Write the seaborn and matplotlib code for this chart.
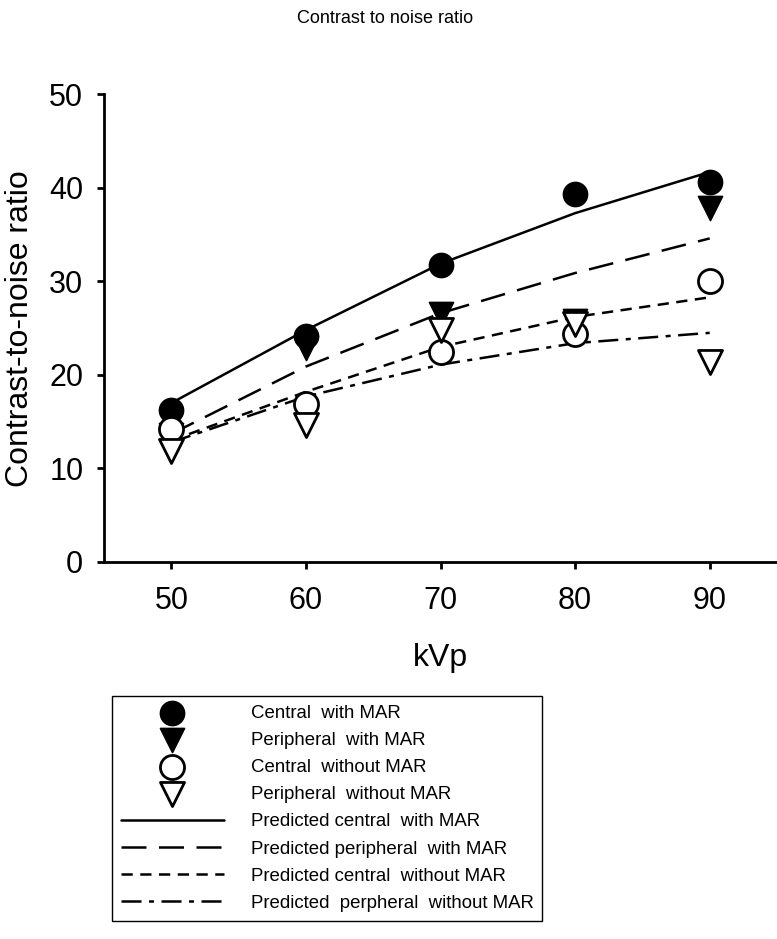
import matplotlib
matplotlib.use("Agg")
import matplotlib.pyplot as plt
import seaborn as sns
import pandas as pd

# kVp settings
kvp = [50, 60, 70, 80, 90]

# measured contrast-to-noise ratio
central_mar = [16.2, 24.2, 31.8, 39.4, 40.6]
peripheral_mar = [13.6, 22.9, 26.5, 25.8, 37.9]
central_nomar = [14.2, 16.9, 22.4, 24.4, 30.0]
peripheral_nomar = [11.9, 14.6, 24.8, 25.4, 21.4]

# predicted (fitted) curves
pred_central_mar = [17.0, 24.8, 31.9, 37.3, 41.7]
pred_peripheral_mar = [13.7, 20.9, 26.6, 30.9, 34.6]
pred_central_nomar = [13.0, 18.2, 23.0, 26.2, 28.3]
pred_peripheral_nomar = [12.8, 17.7, 21.1, 23.4, 24.5]

sns.set_style("ticks")
plt.rcParams['font.family'] = ['Liberation Sans', 'DejaVu Sans']
plt.rcParams['text.color'] = 'black'
plt.rcParams['axes.labelcolor'] = 'black'

df = pd.DataFrame({
    'kVp': kvp,
    'cm': central_mar, 'pm': peripheral_mar,
    'cn': central_nomar, 'pn': peripheral_nomar,
    'pcm': pred_central_mar, 'ppm': pred_peripheral_mar,
    'pcn': pred_central_nomar, 'ppn': pred_peripheral_nomar,
})

fig = plt.figure(figsize=(7.77, 9.39), dpi=100)
ax = fig.add_axes([0.134, 0.4015, 0.866, 0.498])

lw = 1.8
sns.lineplot(data=df, x='kVp', y='pcm', ax=ax, color='black', lw=lw,
             linestyle='-', label='Predicted central  with MAR')
sns.lineplot(data=df, x='kVp', y='ppm', ax=ax, color='black', lw=lw,
             linestyle=(0, (10, 5)), label='Predicted peripheral  with MAR')
sns.lineplot(data=df, x='kVp', y='pcn', ax=ax, color='black', lw=lw,
             linestyle=(0, (4.5, 3)), label='Predicted central  without MAR')
sns.lineplot(data=df, x='kVp', y='ppn', ax=ax, color='black', lw=lw,
             linestyle=(0, (8, 3, 2, 3)), label='Predicted  perpheral  without MAR')

ms = 300
sns.scatterplot(data=df, x='kVp', y='cm', ax=ax, marker='o', s=ms,
                color='black', edgecolor='black', linewidth=1.2,
                label='Central  with MAR', zorder=3)
sns.scatterplot(data=df, x='kVp', y='pm', ax=ax, marker='v', s=ms,
                color='black', edgecolor='black', linewidth=1.2,
                label='Peripheral  with MAR', zorder=3)
sns.scatterplot(data=df, x='kVp', y='cn', ax=ax, marker='o', s=ms,
                color='white', edgecolor='black', linewidth=2,
                label='Central  without MAR', zorder=4)
sns.scatterplot(data=df, x='kVp', y='pn', ax=ax, marker='v', s=ms,
                color='white', edgecolor='black', linewidth=2,
                label='Peripheral  without MAR', zorder=4)

ax.set_xlim(45, 95)
ax.set_ylim(0, 50)
ax.set_xticks(kvp)
ax.set_yticks([0, 10, 20, 30, 40, 50])
ax.tick_params(axis='both', labelsize=22, width=2, length=5, direction='out',
               color='black', labelcolor='black')
ax.tick_params(axis='x', pad=12)
ax.tick_params(axis='y', pad=10)
for s in ['left', 'bottom']:
    ax.spines[s].set_linewidth(2)
    ax.spines[s].set_color('black')
sns.despine(ax=ax)
ax.set_xlabel('kVp', fontsize=23, labelpad=20)
ax.set_ylabel('Contrast-to-noise ratio', fontsize=23, labelpad=10)
fig.text(0.495, 0.989, 'Contrast to noise ratio', ha='center', va='top', fontsize=13)

ax.get_legend().remove()
handles, labels = ax.get_legend_handles_labels()
order = ['Central  with MAR', 'Peripheral  with MAR', 'Central  without MAR',
         'Peripheral  without MAR', 'Predicted central  with MAR',
         'Predicted peripheral  with MAR', 'Predicted central  without MAR',
         'Predicted  perpheral  without MAR']
hmap = dict(zip(labels, handles))
leg = fig.legend([hmap[k] for k in order], order, loc='upper left',
                 bbox_to_anchor=(0.144, 0.018, 0.554, 0.241), mode='expand',
                 fontsize=13.4, frameon=True, fancybox=False, framealpha=1,
                 edgecolor='black', handlelength=5.5, handletextpad=1.45,
                 labelspacing=0.54, borderpad=0.5, borderaxespad=0)
leg.get_frame().set_linewidth(1.0)

fig.savefig('out.png', dpi=100)
